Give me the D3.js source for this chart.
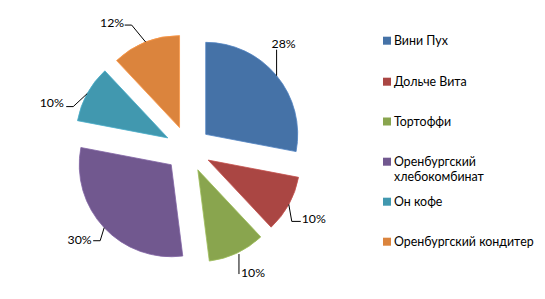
<!DOCTYPE html>
<html><head><meta charset="utf-8">
<script src="https://cdn.jsdelivr.net/npm/d3@7"></script>
<style>
html,body{margin:0;padding:0;background:#fff;}
text{font-family:Lato,"Open Sans",sans-serif;}
</style></head>
<body><svg id="chart" width="545" height="299"></svg>
<script>
const categories = ["Вини Пух","Дольче Вита","Тортоффи","Оренбургский хлебокомбинат","Он кофе","Оренбургский кондитер"];
const legendLines = [["Вини Пух"],["Дольче Вита"],["Тортоффи"],["Оренбургский","хлебокомбинат"],["Он кофе"],["Оренбургский кондитер"]];
const values = [28,10,10,30,10,12];
const percentLabels = ["28%","10%","10%","30%","10%","12%"];
const colors = ["#4572A7","#AA4643","#89A54E","#71588F","#4198AF","#DB843D"];

// layout constants
const cx = 188, cy = 149, R = 92, explode = 23;
const labelOffset = [[7,-32],[25,14],[16,19],[-24.5,12],[-35.5,9],[-33.5,-20]];
const leaders = [
  [[0,0],[0,-26]],
  [[0,0],[3,17],[12,17]],
  [[2,1],[2,21]],
  [[0,0],[-4,13],[-11,13]],
  [[0,0],[-14,13],[-21,13]],
  [[0,0],[-14,-17],[-21,-17]]
];
const legendY = [40.7, 81.7, 121.5, 161.7, 201.7, 241.7];

const svg = d3.select("#chart");
const pie = d3.pie().sort(null).value(d => d);
const arcs = pie(values);
const arc = d3.arc().innerRadius(0).outerRadius(R);

const g = svg.append("g").attr("transform", `translate(${cx},${cy})`);
arcs.forEach((a, i) => {
  const mid = (a.startAngle + a.endAngle) / 2;
  const ox = Math.sin(mid) * explode, oy = -Math.cos(mid) * explode;
  g.append("path")
    .attr("d", arc(a))
    .attr("transform", `translate(${ox},${oy})`)
    .attr("fill", colors[i])
    .attr("stroke", d3.color(colors[i]).brighter(0.4))
    .attr("stroke-width", 0.8);
  const sx = ox + Math.sin(mid) * R, sy = oy - Math.cos(mid) * R;
  const pts = leaders[i].map(p => [sx + p[0], sy + p[1]]);
  g.append("path")
    .attr("d", d3.line()(pts))
    .attr("fill", "none")
    .attr("stroke", "#000")
    .attr("stroke-width", 1);
  g.append("text")
    .attr("x", sx + labelOffset[i][0])
    .attr("y", sy + labelOffset[i][1])
    .attr("text-anchor", "middle")
    .attr("dominant-baseline", "central")
    .attr("font-size", 12.3)
    .attr("fill", "#000")
    .text(percentLabels[i]);
});

const lg = svg.append("g");
legendLines.forEach((lines, i) => {
  lg.append("rect")
    .attr("x", 383).attr("y", legendY[i] - 4)
    .attr("width", 8).attr("height", 8)
    .attr("fill", colors[i]);
  lines.forEach((t, j) => {
    lg.append("text")
      .attr("x", 394)
      .attr("y", legendY[i] + j * 15)
      .attr("dominant-baseline", "central")
      .attr("font-size", 12.4)
      .attr("fill", "#000")
      .text(t);
  });
});
</script></body></html>
